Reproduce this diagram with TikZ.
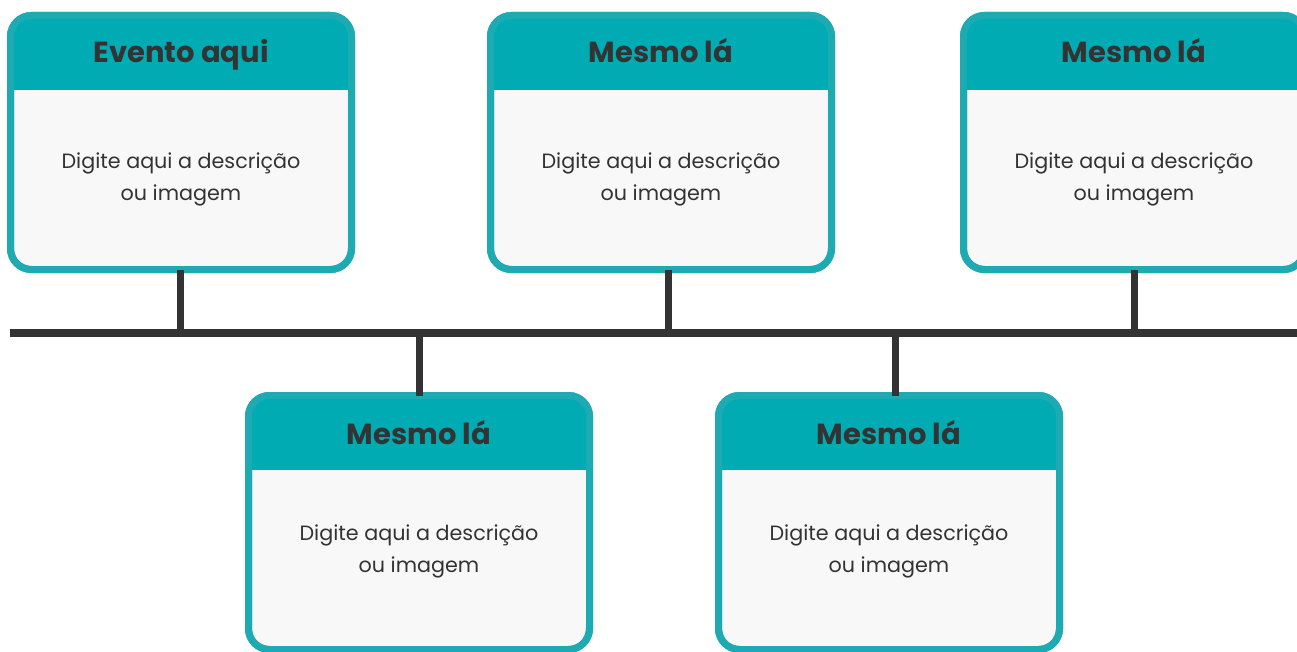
\documentclass[tikz,border=0pt]{standalone}
\usepackage{fontspec}
\setmainfont{Poppins}
\definecolor{headcol}{HTML}{00ABB3}
\definecolor{bordercol}{HTML}{1DAAB2}
\definecolor{bodycol}{HTML}{F8F8F8}
\definecolor{inkcol}{HTML}{333333}
\tikzset{
  boxshape/.style={rectangle, minimum width=341pt, minimum height=254pt, inner sep=0pt, outer sep=0pt, fill=bodycol},
  boxborder/.style={draw=bordercol, line width=7pt, rounded corners=21pt},
  headfill/.style={fill=headcol},
  titletext/.style={font=\fontsize{29}{34}\selectfont\bfseries, text=inkcol, anchor=base},
  desctext/.style={font=\fontsize{20.7}{32}\selectfont, text=inkcol, align=center},
  axisline/.style={draw=inkcol, line width=8pt},
  stemline/.style={draw=inkcol, line width=7pt}
}
% name, center x, path top y, title, description offset, title baseline offset
\newcommand\tlbox[6]{%
  \path[boxborder, fill=bodycol] (#2-170.5,#3) rectangle (#2+170.5,#3+254);
  \node[boxshape, fill=none] (#1) at (#2,#3+127) {};
  \begin{scope}
    \clip[rounded corners=21pt] (#1.north west) rectangle (#1.south east);
    \fill[headfill] (#1.north west) rectangle (#2+171,#3+74.5);
  \end{scope}
  \draw[boxborder] (#1.north west) rectangle (#1.south east);
  \node[titletext] (#1t) at (#2,#3+#6) {#4};
  \node[desctext] (#1d) at (#2,#3+#5) {Digite aqui a descrição\\ou imagem};
}
\begin{document}
\begin{tikzpicture}[x=1pt,y=-1pt]
\useasboundingbox (0,0) rectangle (1297,652);
\fill[white] (0,0) rectangle (1297,652);
\tlbox{b1}{181}{15.5}{Evento aqui}{163.5}{47.5}
\tlbox{b2}{661}{15.5}{Mesmo lá}{163.5}{47.5}
\tlbox{b3}{1134}{15.5}{Mesmo lá}{163.5}{47.5}
\tlbox{b4}{419}{395.5}{Mesmo lá}{155.5}{49}
\tlbox{b5}{889}{395.5}{Mesmo lá}{155.5}{49}
\coordinate (ls) at (10,333);
\coordinate (le) at (1297,333);
\coordinate (t1) at (180,333);
\coordinate (t2) at (668,333);
\coordinate (t3) at (1134,333);
\coordinate (t4) at (419,333);
\coordinate (t5) at (895,333);
\draw[stemline] (t1) -- (t1 |- b1.south);
\draw[stemline] (t2) -- (t2 |- b2.south);
\draw[stemline] (t3) -- (t3 |- b3.south);
\draw[stemline] (t4) -- (t4 |- b4.north);
\draw[stemline] (t5) -- (t5 |- b5.north);
\draw[axisline] (ls) -- (le);
\end{tikzpicture}
\end{document}
